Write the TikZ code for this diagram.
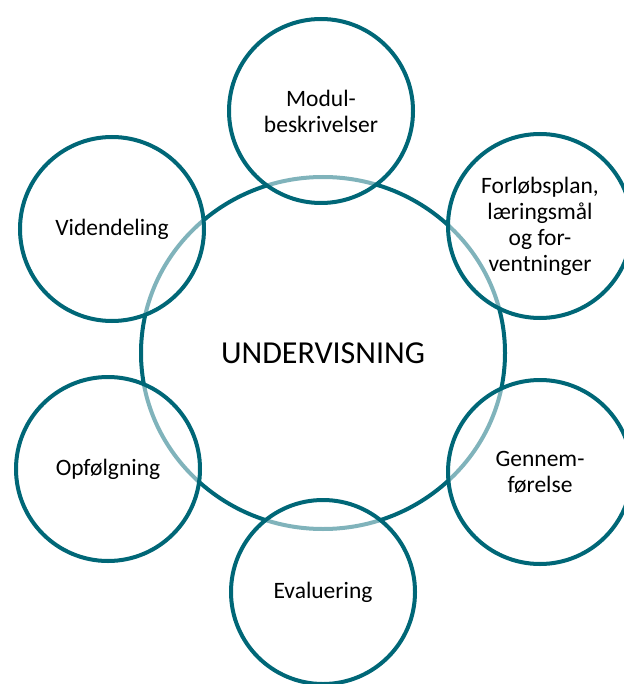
\documentclass[tikz,border=0pt]{standalone}
\usepackage{fontspec}
\setmainfont{Carlito}
\usetikzlibrary{shapes.geometric}
\definecolor{tealdark}{RGB}{0,103,119}
\tikzset{
  sat/.style={circle, draw=tealdark, line width=4pt, fill=white, fill opacity=0.5, text opacity=1,
    minimum size=184pt, inner sep=0pt, align=center, text=black,
    font=\fontsize{23.5}{26}\selectfont},
  hub/.style={ellipse, draw=tealdark, line width=4pt, minimum width=364pt, minimum height=352pt,
    inner sep=0pt, font=\fontsize{32}{38}\selectfont}
}
\begin{document}
\begin{tikzpicture}[x=1pt,y=-1pt]
\useasboundingbox (0,0) rectangle (623,684);
\node[hub] (hub) at (323,353) {UNDERVISNING};
\node[sat] (modul) at (321,111) {Modul-\\beskrivelser};
\node[sat] (forlob) at (540,226) {Forløbsplan,\\læringsmål\\og for-\\ventninger};
\node[sat] (gennem) at (540,472) {Gennem-\\førelse};
\node[sat] (eval) at (323,592) {Evaluering};
\node[sat] (opf) at (108,469) {Opfølgning};
\node[sat] (viden) at (112,229) {Videndeling};
\end{tikzpicture}
\end{document}
